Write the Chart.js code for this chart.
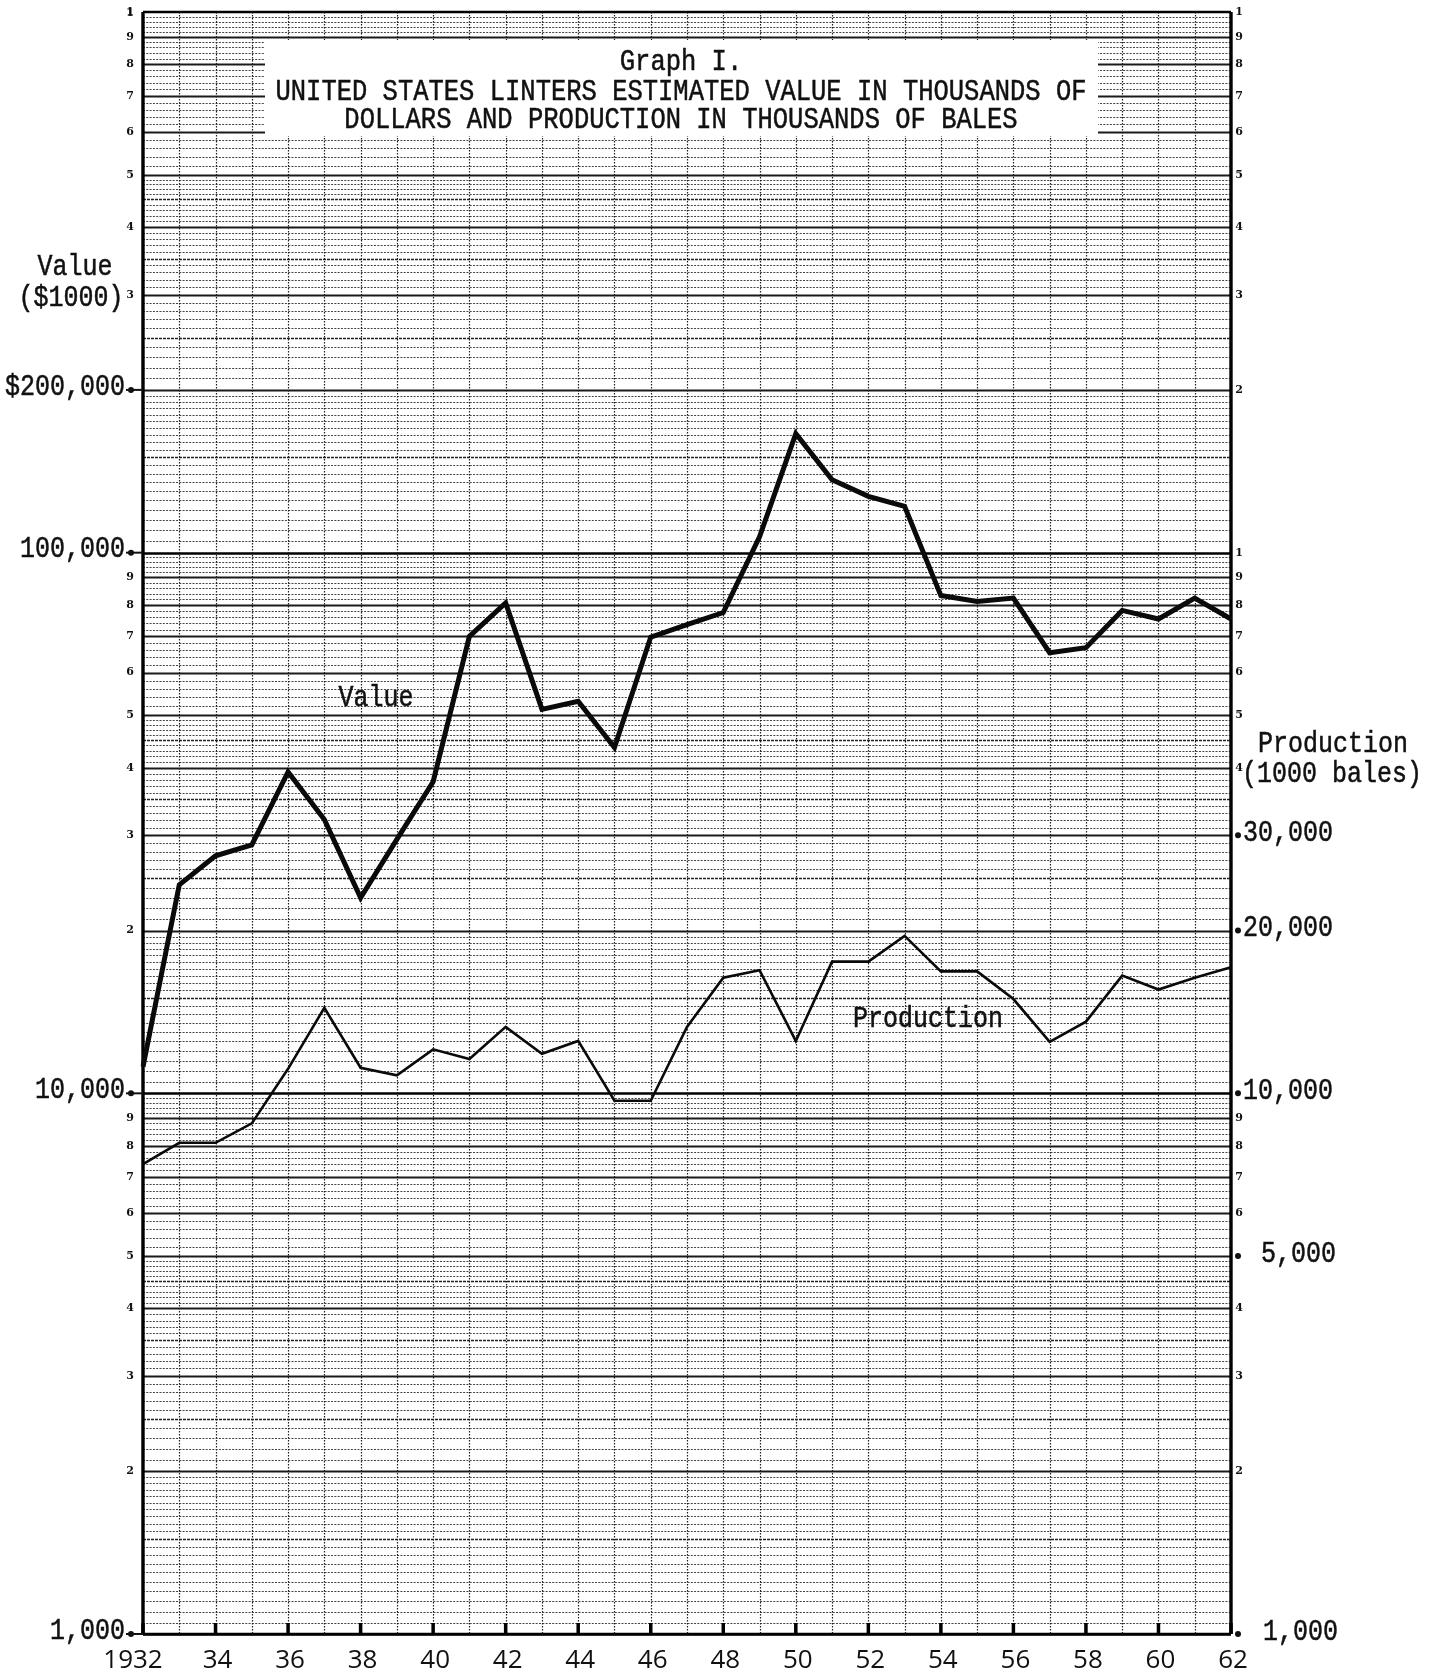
<!DOCTYPE html>
<html>
<head>
<meta charset="utf-8">
<script src="https://cdn.jsdelivr.net/npm/chart.js@4/dist/chart.umd.min.js"></script>
<style>
  html, body { margin: 0; padding: 0; background: #fff; }
  canvas { display: block; }
</style>
</head>
<body>
<canvas id="c" width="1441" height="1676"></canvas>
<script>
// Crop years, 1932-1962
const years = [1932, 1933, 1934, 1935, 1936, 1937, 1938, 1939, 1940, 1941,
               1942, 1943, 1944, 1945, 1946, 1947, 1948, 1949, 1950, 1951,
               1952, 1953, 1954, 1955, 1956, 1957, 1958, 1959, 1960, 1961, 1962];

// Estimated value of linters, thousands of dollars
const valueSeries = [11200, 24300, 27500, 28800, 39300, 32100, 23000, 29500, 37700, 70000,
                     80700, 51300, 53100, 43600, 69800, 73600, 77500, 107000, 166000, 136400,
                     127100, 121800, 83300, 81200, 82400, 65300, 66700, 78200, 75400, 82400, 75400];

// Linters production, thousands of bales
const productionSeries = [7400, 8100, 8100, 8800, 11100, 14400, 11150, 10800, 12060, 11570,
                          13270, 11840, 12500, 9690, 9690, 13270, 16360, 16890, 12500, 17520,
                          17520, 19550, 16810, 16810, 14940, 12450, 13570, 16510, 15560, 16360, 17100];

// Year labels along the bottom (even years)
const yearTickYears  = [1932, 1934, 1936, 1938, 1940, 1942, 1944, 1946, 1948, 1950, 1952, 1954, 1956, 1958, 1960, 1962];
const yearTickLabels = ['1932', '34', '36', '38', '40', '42', '44', '46', '48', '50', '52', '54', '56', '58', '60', '62'];

// Left (value) axis labels
const leftTickValues = [1000, 10000, 100000, 200000];
const leftTickLabels = ['1,000', '10,000', '100,000', '$200,000'];

// Right (production) axis labels
const rightTickValues = [1000, 5000, 10000, 20000, 30000];
const rightTickLabels = ['1,000', '5,000', '10,000', '20,000', '30,000'];

// Three log cycles of the ruled paper
const cycleBases = [1000, 10000, 100000];
const scaleMin = 1000, scaleMax = 1000000;

const titleLines = [
  'Graph I.',
  'UNITED STATES LINTERS ESTIMATED VALUE IN THOUSANDS OF',
  'DOLLARS AND PRODUCTION IN THOUSANDS OF BALES'
];

const TYPE = '"Liberation Mono", "DejaVu Sans Mono", monospace';
const HAND = '"Open Sans", "DejaVu Sans", sans-serif';

// Typed text: slightly tall glyphs with a light overstrike
function typed(ctx, text, x, y) {
  ctx.save();
  ctx.translate(x, y);
  ctx.scale(1, 1.18);
  ctx.fillText(text, 0, 0);
  ctx.lineWidth = 0.45;
  ctx.strokeText(text, 0, 0);
  ctx.restore();
}

// Draws the semi-log ruled paper under the lines
const paperPlugin = {
  id: 'paper',
  beforeDatasetsDraw(chart) {
    const { ctx, chartArea: a, scales } = chart;
    const y = scales.y, x = scales.x;
    ctx.save();

    // horizontal rulings: 1-2 in 0.05, 2-5 in 0.1, 5-10 in 0.2
    for (const base of cycleBases) {
      let u = 100;
      while (u < 1000) {
        const step = u < 200 ? 5 : (u < 500 ? 10 : 20);
        const py = Math.round(y.getPixelForValue(base * u / 100)) + 0.5;
        let kind;
        if (u === 100) kind = 'decade';
        else if (u % 100 === 0) kind = 'major';
        else if (u % 50 === 0 && u < 500) kind = 'mid';
        else kind = 'minor';
        ctx.beginPath();
        if (kind === 'decade') { ctx.setLineDash([]); ctx.strokeStyle = '#000'; ctx.lineWidth = 2.4; }
        else if (kind === 'major') { ctx.setLineDash([]); ctx.strokeStyle = '#1a1a1a'; ctx.lineWidth = 1.9; }
        else if (kind === 'mid') { ctx.setLineDash([3, 1]); ctx.strokeStyle = '#222'; ctx.lineWidth = 1.3; }
        else { ctx.setLineDash([2, 1.3]); ctx.strokeStyle = '#444'; ctx.lineWidth = 1; }
        ctx.moveTo(a.left, py);
        ctx.lineTo(a.right, py);
        ctx.stroke();
        u += step;
      }
    }

    // vertical rulings, one per year
    ctx.setLineDash([1.5, 1.5]);
    ctx.strokeStyle = '#1e1e1e';
    ctx.lineWidth = 1.2;
    for (let i = 1; i < years.length - 1; i++) {
      const px = Math.round(x.getPixelForValue(i)) + 0.5;
      ctx.beginPath();
      ctx.moveTo(px, a.top);
      ctx.lineTo(px, a.bottom);
      ctx.stroke();
    }
    ctx.setLineDash([]);

    // frame
    ctx.strokeStyle = '#000';
    ctx.lineWidth = 3.4;
    ctx.beginPath();
    ctx.moveTo(a.left, a.top); ctx.lineTo(a.left, a.bottom);
    ctx.moveTo(a.right, a.top); ctx.lineTo(a.right, a.bottom);
    ctx.stroke();
    ctx.lineWidth = 2.6;
    ctx.beginPath();
    ctx.moveTo(a.left, a.top); ctx.lineTo(a.right, a.top);
    ctx.moveTo(a.left, a.bottom); ctx.lineTo(a.right, a.bottom);
    ctx.stroke();

    // heavy ticks at the even years
    ctx.lineWidth = 3.5;
    for (const yr of yearTickYears) {
      const px = x.getPixelForValue(years.indexOf(yr));
      ctx.beginPath();
      ctx.moveTo(px, a.bottom);
      ctx.lineTo(px, a.bottom - 11);
      ctx.stroke();
    }

    // white title panel
    ctx.fillStyle = '#fff';
    ctx.fillRect(265, 40, 833, 96);
    ctx.restore();
  },

  afterDatasetsDraw(chart) {
    const { ctx, chartArea: a, scales } = chart;
    const y = scales.y, y2 = scales.y2, x = scales.x;
    ctx.save();
    ctx.fillStyle = '#111';
    ctx.strokeStyle = '#111';

    // title
    ctx.textAlign = 'center';
    ctx.textBaseline = 'middle';
    ctx.font = '25.5px ' + TYPE;
    const titleY = [62, 92, 120];
    titleLines.forEach((t, i) => typed(ctx, t, 681, titleY[i]));

    // small cycle digits along both edges
    ctx.font = 'bold 11px "DejaVu Serif", serif';
    ctx.textAlign = 'center';
    const skipLeft = new Set(leftTickValues);
    const skipRight = new Set(rightTickValues);
    const digitMarks = [];
    for (const base of cycleBases) {
      for (let d = 2; d <= 9; d++) digitMarks.push([base * d, String(d)]);
    }
    digitMarks.push([100000, '1'], [1000000, '1']);
    for (const [v, s] of digitMarks) {
      const py = y.getPixelForValue(v);
      if (!skipLeft.has(v)) ctx.fillText(s, a.left - 13, py);
      if (!skipRight.has(v)) ctx.fillText(s, a.right + 8, py);
    }
    ctx.fillText('1', a.left - 13, y.getPixelForValue(1000000) + 1);

    // left axis labels
    ctx.font = '25px ' + TYPE;
    ctx.textAlign = 'right';
    leftTickValues.forEach((v, i) => {
      const py = y.getPixelForValue(v);
      typed(ctx, leftTickLabels[i], a.left - 18, py - 3);
      ctx.lineWidth = 2;
      ctx.beginPath();
      ctx.moveTo(a.left - 17, py);
      ctx.lineTo(a.left, py);
      ctx.stroke();
      ctx.beginPath();
      ctx.arc(a.left - 12, py, 3, 0, Math.PI * 2);
      ctx.fill();
    });
    ctx.textAlign = 'center';
    typed(ctx, 'Value', 75, 267);
    typed(ctx, '($1000)', 71, 298);

    // right axis labels
    ctx.textAlign = 'left';
    rightTickValues.forEach((v, i) => {
      const py = y2.getPixelForValue(v);
      const lx = v === 1000 ? a.right + 32 : (v === 5000 ? a.right + 30 : a.right + 12);
      typed(ctx, rightTickLabels[i], lx, py - 2);
      ctx.beginPath();
      ctx.arc(a.right + 7, py, 3, 0, Math.PI * 2);
      ctx.fill();
    });
    ctx.textAlign = 'center';
    typed(ctx, 'Production', 1333, 744);
    typed(ctx, '(1000 bales)', 1332, 774);

    // series names written beside the lines
    typed(ctx, 'Value', 376, 698);
    typed(ctx, 'Production', 928, 1019);

    // year labels
    ctx.font = '26px ' + HAND;
    ctx.textBaseline = 'middle';
    yearTickYears.forEach((yr, i) => {
      const px = x.getPixelForValue(years.indexOf(yr));
      ctx.fillText(yearTickLabels[i], px + (i === 0 ? -10 : 2), a.bottom + 27);
    });
    ctx.restore();
  }
};

new Chart(document.getElementById('c'), {
  type: 'line',
  data: {
    labels: years.map(String),
    datasets: [
      {
        label: 'Value',
        data: valueSeries,
        yAxisID: 'y',
        borderColor: '#0a0a0a',
        borderWidth: 5,
        pointRadius: 0,
        tension: 0,
        borderJoinStyle: 'miter',
        fill: false
      },
      {
        label: 'Production',
        data: productionSeries,
        yAxisID: 'y2',
        borderColor: '#0a0a0a',
        borderWidth: 2.6,
        pointRadius: 0,
        tension: 0,
        borderJoinStyle: 'miter',
        fill: false
      }
    ]
  },
  options: {
    responsive: false,
    animation: false,
    devicePixelRatio: 1,
    layout: { padding: { left: 143, right: 210, top: 12, bottom: 42 } },
    plugins: {
      legend: { display: false },
      tooltip: { enabled: false },
      title: { display: false }
    },
    scales: {
      x: { type: 'category', offset: false, display: false },
      y: { type: 'logarithmic', min: scaleMin, max: scaleMax, display: false },
      y2: { type: 'logarithmic', min: scaleMin, max: scaleMax, display: false, position: 'right' }
    }
  },
  plugins: [paperPlugin]
});
</script>
</body>
</html>
